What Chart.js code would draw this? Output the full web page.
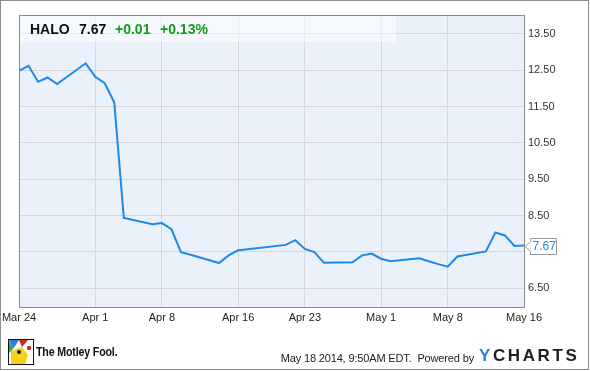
<!DOCTYPE html>
<html>
<head>
<meta charset="utf-8">
<script src="https://cdn.jsdelivr.net/npm/chart.js@4.4.1/dist/chart.umd.min.js"></script>
<style>
  body { margin: 0; background: #fff; }
  #wrap { position: relative; width: 590px; height: 371px; overflow: hidden; font-family: "Liberation Sans", Arial, sans-serif; }
  #frame { position: absolute; left: 0; top: 0; width: 589px; height: 370px; box-sizing: border-box; border: 1px solid #8c8c8c; pointer-events: none; }
  #chart { position: absolute; left: 0; top: 0; }
  .hdr { position: absolute; top: 21px; font-size: 14px; font-weight: bold; line-height: 16px; white-space: nowrap; color: #111; }
  .up { color: #159a15; }
  #logo { position: absolute; left: 8px; top: 339px; }
  #fool { position: absolute; left: 36px; top: 344px; font-size: 13px; font-weight: bold; line-height: 15px; color: #111; white-space: nowrap; transform: scaleX(0.82); transform-origin: left top; letter-spacing: -0.2px; }
  #stamp { position: absolute; right: 116px; top: 352px; font-size: 11px; line-height: 13px; letter-spacing: -0.15px; color: #222; white-space: nowrap; text-align: right; }
  #ycharts { position: absolute; left: 479px; top: 346px; font-size: 17px; font-weight: bold; line-height: 20px; letter-spacing: 2.6px; color: #1e1e1e; white-space: nowrap; }
  #ycharts span { color: #2f7fe0; }
</style>
</head>
<body>
<div id="wrap">
  <canvas id="chart" width="590" height="371"></canvas>
  <div class="hdr" style="left:30px">HALO</div>
  <div class="hdr" style="left:79px">7.67</div>
  <div class="hdr up" style="left:115px">+0.01</div>
  <div class="hdr up" style="left:160px">+0.13%</div>
  <canvas id="logo" width="26" height="26"></canvas>
  <div id="fool">The Motley Fool.</div>
  <div id="stamp">May 18 2014, 9:50AM EDT.&nbsp; Powered by</div>
  <div id="ycharts"><span>Y</span>CHARTS</div>
  <div id="frame"></div>
</div>
<script>
// days counted from Mar 24 2014 (calendar days, trading days only)
const days = [0, 1, 2, 3, 4, 7, 8, 9, 10, 11, 14, 15, 16, 17, 18, 21, 22, 23, 24, 28, 29, 30, 31, 32,
  35, 36, 37, 38, 39, 42, 43, 44, 45, 46, 49, 50, 51, 52, 53];
const prices = [12.48, 12.62, 12.18, 12.30, 12.12, 12.69, 12.32, 12.14, 11.61, 8.43, 8.26, 8.29, 8.12, 7.49, 7.42, 7.19, 7.40, 7.54, 7.57, 7.69, 7.82, 7.58, 7.49, 7.20,
  7.21, 7.40, 7.45, 7.31, 7.24, 7.32, 7.24, 7.16, 7.09, 7.37, 7.51, 8.03, 7.95, 7.66, 7.67];

const tickDays = [0, 8, 15, 23, 30, 38, 45, 53];
const tickLabels = ['Mar 24', 'Apr 1', 'Apr 8', 'Apr 16', 'Apr 23', 'May 1', 'May 8', 'May 16'];
const priceTicks = [6.5, 7.5, 8.5, 9.5, 10.5, 11.5, 12.5, 13.5];

Chart.defaults.font.family = '"Liberation Sans", Arial, sans-serif';

const plotDecor = {
  id: 'plotDecor',
  beforeDraw(chart) {
    const { ctx, chartArea: a } = chart;
    ctx.save();
    ctx.fillStyle = '#eaf1fb';
    ctx.fillRect(a.left, a.top, a.right - a.left, a.bottom - a.top);
    ctx.restore();
  },
  beforeDatasetsDraw(chart) {
    // translucent header strip
    const { ctx, chartArea: a } = chart;
    ctx.save();
    ctx.fillStyle = 'rgba(255,255,255,0.5)';
    ctx.fillRect(a.left, a.top, 396 - a.left, 27);
    ctx.restore();
  },
  afterDraw(chart) {
    const { ctx, chartArea: a } = chart;
    ctx.save();
    ctx.strokeStyle = '#8a8a8a';
    ctx.lineWidth = 1;
    ctx.strokeRect(a.left + 0.5, a.top + 0.5, a.right - a.left, a.bottom - a.top);

    // last value flag
    const last = prices[prices.length - 1];
    const y = Math.round(chart.scales.y.getPixelForValue(last)) + 0.5;
    const x0 = a.right + 1.5;
    ctx.beginPath();
    ctx.moveTo(x0, y);
    ctx.lineTo(x0 + 5, y - 5);
    ctx.lineTo(x0 + 5, y - 8);
    ctx.lineTo(x0 + 31, y - 8);
    ctx.lineTo(x0 + 31, y + 8);
    ctx.lineTo(x0 + 5, y + 8);
    ctx.lineTo(x0 + 5, y + 5);
    ctx.closePath();
    ctx.fillStyle = '#fff';
    ctx.fill();
    ctx.strokeStyle = '#9a9a9a';
    ctx.stroke();
    ctx.fillStyle = '#1e8ae6';
    ctx.font = '12px "Liberation Sans", Arial, sans-serif';
    ctx.textBaseline = 'middle';
    ctx.fillText(last.toFixed(2), x0 + 7, y + 0.5);
    ctx.restore();
  }
};

new Chart(document.getElementById('chart'), {
  type: 'line',
  data: {
    datasets: [{
      data: days.map((d, i) => ({ x: d, y: prices[i] })),
      borderColor: '#1e8ae8',
      borderWidth: 2,
      pointRadius: 0,
      tension: 0,
      fill: false
    }]
  },
  options: {
    responsive: false,
    animation: false,
    devicePixelRatio: 1,
    layout: { padding: { left: 19, top: 15, right: 0, bottom: 0 } },
    plugins: { legend: { display: false }, tooltip: { enabled: false } },
    scales: {
      x: {
        type: 'linear',
        min: 0,
        max: 53,
        afterBuildTicks: s => { s.ticks = tickDays.map(v => ({ value: v })); },
        afterFit: s => { s.height = 64; s.paddingLeft = 0; s.paddingRight = 0; },
        ticks: {
          autoSkip: false,
          maxRotation: 0,
          padding: 4,
          color: '#222',
          font: { size: 11 },
          callback: (v) => tickLabels[tickDays.indexOf(v)]
        },
        grid: { color: '#d6d6d6', drawTicks: false },
        border: { display: false }
      },
      y: {
        position: 'right',
        min: 5.98,
        max: 14.02,
        afterBuildTicks: s => { s.ticks = priceTicks.map(v => ({ value: v })); },
        afterFit: s => { s.width = 66; s.paddingTop = 0; s.paddingBottom = 0; },
        ticks: {
          padding: 4,
          color: '#333',
          font: { size: 11 },
          callback: v => v.toFixed(2)
        },
        grid: { color: '#d6d6d6', drawTicks: false },
        border: { display: false }
      }
    }
  },
  plugins: [plotDecor]
});

// rough jester icon
const lg = document.getElementById('logo').getContext('2d');
lg.fillStyle = '#fff';
lg.fillRect(0, 0, 26, 26);
lg.fillStyle = '#f3d21a';
lg.beginPath();
lg.moveTo(3, 26); lg.lineTo(3, 12); lg.lineTo(14, 8); lg.lineTo(20, 16); lg.lineTo(17, 26); lg.closePath();
lg.fill();
lg.fillStyle = '#2a7fd0';
lg.beginPath(); lg.moveTo(1, 1); lg.lineTo(11, 1); lg.lineTo(5, 10); lg.closePath(); lg.fill();
lg.fillStyle = '#d8261c';
lg.beginPath(); lg.moveTo(11, 1); lg.lineTo(20, 1); lg.lineTo(14, 8); lg.closePath(); lg.fill();
lg.fillStyle = '#2aa63c';
lg.beginPath(); lg.moveTo(1, 2); lg.lineTo(5, 10); lg.lineTo(1, 14); lg.closePath(); lg.fill();
lg.fillStyle = '#111';
lg.beginPath(); lg.arc(11, 13, 2, 0, Math.PI * 2); lg.fill();
lg.fillStyle = '#d8261c';
lg.beginPath(); lg.arc(21, 9, 2.2, 0, Math.PI * 2); lg.fill();
lg.strokeStyle = '#111';
lg.lineWidth = 1;
lg.strokeRect(0.5, 0.5, 25, 25);
</script>
</body>
</html>
